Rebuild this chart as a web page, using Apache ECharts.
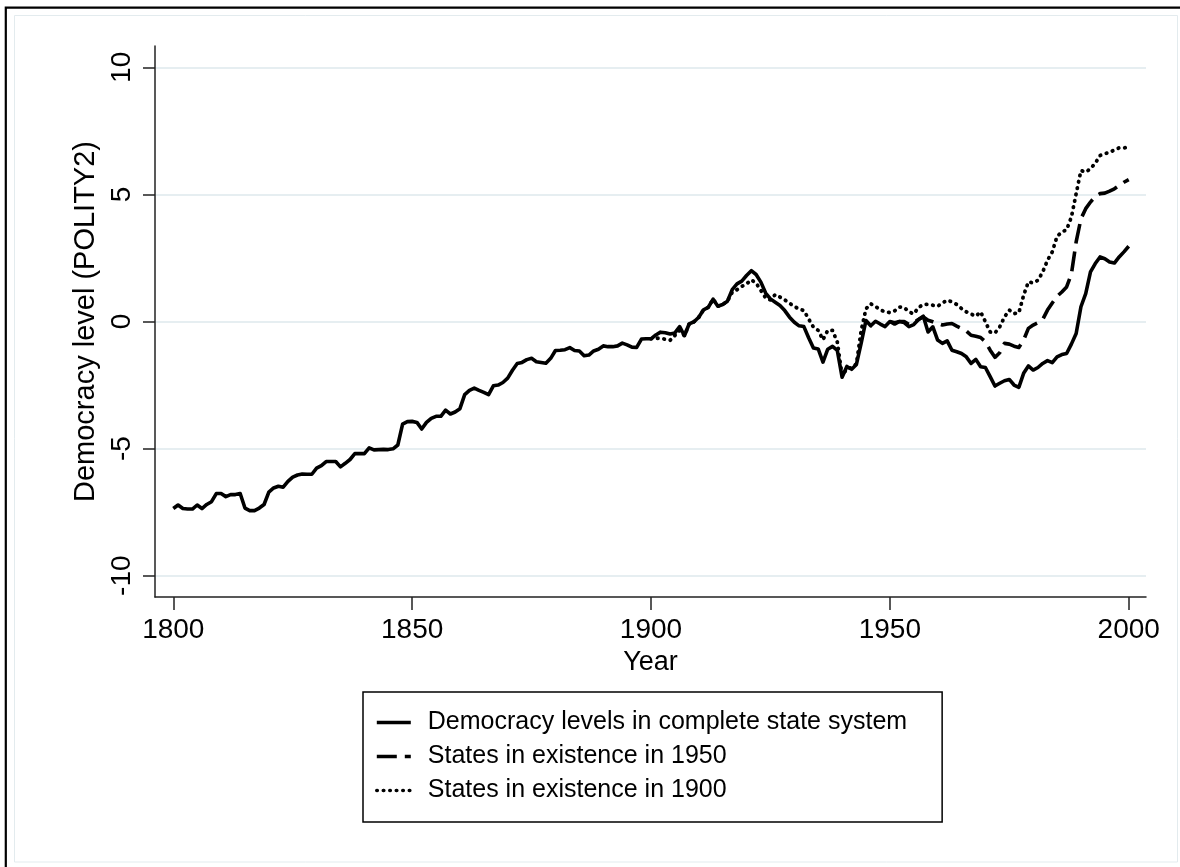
<!DOCTYPE html>
<html>
<head>
<meta charset="utf-8">
<script src="https://cdn.jsdelivr.net/npm/echarts@6/dist/echarts.min.js"></script>
<style>
html,body{margin:0;padding:0;background:#fff;}
#chart{width:1180px;height:867px;}
</style>
</head>
<body>
<div id="chart"></div>
<script>
// ---- data ----
const seriesNames = [
  'Democracy levels in complete state system',
  'States in existence in 1950',
  'States in existence in 1900'
];
const xTicks = [1800, 1850, 1900, 1950, 2000];
const yTicks = [-10, -5, 0, 5, 10];

const allStart = 1800;
const allStates = [
  -7.36,-7.22,-7.36,-7.38,-7.38,-7.22,-7.36,-7.20,-7.09,-6.77,
  -6.77,-6.89,-6.81,-6.81,-6.77,-7.34,-7.44,-7.44,-7.34,-7.20,
  -6.71,-6.55,-6.48,-6.52,-6.29,-6.12,-6.04,-6.00,-6.01,-6.01,
  -5.77,-5.67,-5.51,-5.51,-5.51,-5.72,-5.58,-5.43,-5.20,-5.20,
  -5.20,-4.97,-5.05,-5.04,-5.03,-5.04,-5.01,-4.86,-4.04,-3.94,
  -3.93,-3.97,-4.23,-3.97,-3.81,-3.73,-3.73,-3.49,-3.64,-3.56,
  -3.43,-2.88,-2.71,-2.62,-2.71,-2.79,-2.88,-2.53,-2.50,-2.40,
  -2.23,-1.92,-1.65,-1.61,-1.50,-1.45,-1.58,-1.61,-1.64,-1.45,
  -1.14,-1.13,-1.11,-1.03,-1.14,-1.16,-1.35,-1.32,-1.16,-1.09,
  -0.96,-0.99,-0.99,-0.96,-0.85,-0.92,-1.01,-1.02,-0.69,-0.68,
  -0.68,-0.53,-0.42,-0.44,-0.49,-0.45,-0.20,-0.56,-0.09,-0.01,
  0.17,0.46,0.56,0.88,0.60,0.67,0.80,1.25,1.48,1.59,
  1.81,2.00,1.85,1.55,1.12,0.89,0.76,0.63,0.43,0.17,
  -0.03,-0.17,-0.20,-0.64,-1.04,-1.08,-1.60,-1.09,-0.98,-1.14,
  -2.19,-1.77,-1.88,-1.69,-0.85,0.04,-0.17,0.01,-0.10,-0.20,
  0.00,-0.10,0.00,-0.04,-0.20,-0.12,0.08,0.21,-0.41,-0.21,
  -0.73,-0.86,-0.76,-1.13,-1.19,-1.26,-1.39,-1.65,-1.49,-1.78,
  -1.81,-2.17,-2.54,-2.43,-2.33,-2.28,-2.50,-2.59,-2.04,-1.75,
  -1.91,-1.81,-1.65,-1.54,-1.62,-1.39,-1.30,-1.26,-0.89,-0.47,
  0.58,1.10,1.95,2.28,2.54,2.47,2.34,2.30,2.54,2.74,
  2.96
];

const s1950Start = 1950;
const states1950 = [
  0.00,-0.05,0.00,0.00,-0.12,-0.05,0.08,0.18,0.05,-0.01,
  -0.08,-0.14,-0.10,-0.08,-0.18,-0.27,-0.37,-0.54,-0.58,-0.63,
  -0.80,-1.13,-1.41,-1.23,-0.86,-0.89,-0.97,-1.02,-0.73,-0.27,
  -0.14,-0.05,0.08,0.45,0.73,0.99,1.16,1.36,1.86,3.13,
  4.04,4.44,4.70,4.92,5.03,5.05,5.13,5.22,5.35,5.48,
  5.58
];

const s1900Start = 1900;
const states1900 = [
  -0.68,-0.66,-0.66,-0.70,-0.74,-0.55,-0.35,-0.56,-0.09,-0.01,
  0.17,0.46,0.56,0.88,0.60,0.67,0.80,1.15,1.25,1.38,
  1.48,1.64,1.51,1.22,0.93,0.85,1.06,0.96,0.85,0.72,
  0.59,0.49,0.43,0.10,-0.22,-0.35,-0.72,-0.35,-0.35,-0.81,
  -2.13,-1.86,-1.82,-1.67,-0.35,0.50,0.70,0.59,0.46,0.38,
  0.35,0.42,0.57,0.55,0.38,0.30,0.55,0.67,0.68,0.64,
  0.60,0.73,0.84,0.77,0.67,0.51,0.38,0.29,0.21,0.38,
  -0.01,-0.41,-0.45,-0.21,0.18,0.45,0.31,0.34,1.03,1.56,
  1.52,1.62,1.95,2.41,2.74,3.35,3.52,3.61,4.11,5.03,
  5.94,5.88,6.01,6.23,6.53,6.60,6.66,6.75,6.83,6.83,
  6.86
];

function pairs(start, vals){ return vals.map((v,i)=>[start+i, v]); }

const FONT = '"Liberation Sans", Arial, Helvetica, sans-serif';
const chart = echarts.init(document.getElementById('chart'), null, {renderer:'canvas'});

const option = {
  backgroundColor: '#fff',
  animation: false,
  graphic: [
    { type:'rect', silent:true, z:-10,
      shape:{x:14.5, y:15.5, width:1163, height:846.5},
      style:{fill:'none', stroke:'#e3ebee', lineWidth:1} },
    { type:'rect', silent:true, z:100,
      shape:{x:5.8, y:7.7, width:1200, height:900},
      style:{fill:'none', stroke:'#000', lineWidth:2.2} }
  ],
  grid: { left:155, right:34, top:46, bottom:270, containLabel:false },
  xAxis: {
    type:'value', min:1796.17, max:2003.62,
    name:'Year', nameLocation:'middle', nameGap:46,
    nameTextStyle:{fontFamily:FONT, fontSize:27, color:'#000'},
    axisLine:{show:true, onZero:false, lineStyle:{color:'#222', width:1.5}},
    axisTick:{show:true, inside:false, length:13, customValues:xTicks, lineStyle:{color:'#222', width:1.5}},
    axisLabel:{show:true, customValues:xTicks, margin:19, fontFamily:FONT, fontSize:28, color:'#000',
      formatter:(v)=>String(Math.round(v)), showMinLabel:true, showMaxLabel:true},
    splitLine:{show:false}
  },
  yAxis: {
    type:'value', min:-10.84, max:10.84,
    name:'Democracy level (POLITY2)', nameLocation:'middle', nameGap:46, nameRotate:90,
    nameTextStyle:{fontFamily:FONT, fontSize:29, color:'#000'},
    axisLine:{show:true, onZero:false, lineStyle:{color:'#222', width:1.5}},
    axisTick:{show:true, inside:false, length:12, customValues:yTicks, lineStyle:{color:'#222', width:1.5}},
    axisLabel:{show:true, customValues:yTicks, rotate:90, margin:19, fontFamily:FONT, fontSize:28, color:'#000',
      formatter:(v)=>String(Math.round(v)), showMinLabel:true, showMaxLabel:true},
    splitLine:{show:true, lineStyle:{color:'#e6eef1', width:2}}
  },
  legend: {
    orient:'vertical', left:363, top:692,
    padding:[18, 35, 19, 12],
    itemWidth:34, itemHeight:20, itemGap:9,
    borderColor:'#000', borderWidth:1.5, borderRadius:0,
    backgroundColor:'#fff',
    itemStyle:{color:'rgba(0,0,0,0)', borderWidth:0, opacity:0},
    lineStyle:{width:3.6},
    textStyle:{fontFamily:FONT, fontSize:25, color:'#000', lineHeight:25, padding:[0,0,0,12]},
    data: seriesNames
  },
  series: [
    { name:seriesNames[0], type:'line', data:pairs(allStart, allStates), symbol:'none', showSymbol:false,
      lineStyle:{color:'#000', width:3.6, type:'solid', join:'round'}, itemStyle:{color:'#000'}, z:3 },
    { name:seriesNames[1], type:'line', data:pairs(s1950Start, states1950), symbol:'none', showSymbol:false,
      lineStyle:{color:'#000', width:3.6, type:[20,8], join:'round'}, itemStyle:{color:'#000'}, z:4 },
    { name:seriesNames[2], type:'line', data:pairs(s1900Start, states1900), symbol:'none', showSymbol:false,
      lineStyle:{color:'#000', width:3.8, type:[0.5,6], cap:'round', join:'round'}, itemStyle:{color:'#000'}, z:5 }
  ]
};
chart.setOption(option);
</script>
</body>
</html>
